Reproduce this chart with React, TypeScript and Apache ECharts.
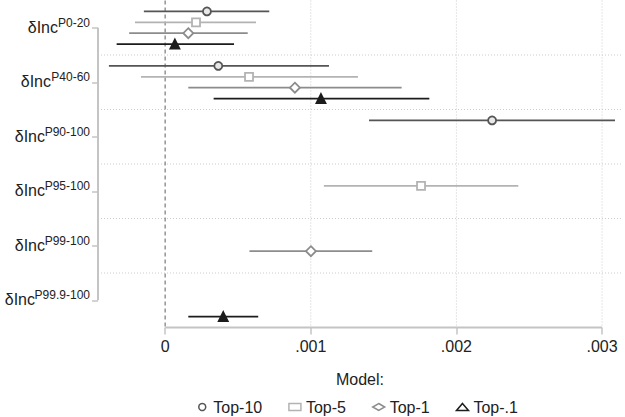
import React, { useEffect, useRef } from "react";
import * as echarts from "echarts";

const groups = ["P0-20", "P40-60", "P90-100", "P95-100", "P99-100", "P99.9-100"];
const labelBase = "δInc";
const models = ["Top-10", "Top-5", "Top-1", "Top-.1"];
const xTicks = [0, 0.001, 0.002, 0.003];

// estimates and 95% intervals per group (null = not estimated)
const estTop10 = [0.000287, 0.000365, 0.002245, null, null, null];
const loTop10 = [-0.000146, -0.000386, 0.0014, null, null, null];
const hiTop10 = [0.000715, 0.001125, 0.003089, null, null, null];

const estTop5 = [0.000212, 0.000576, null, 0.001757, null, null];
const loTop5 = [-0.000207, -0.000166, null, 0.00109, null, null];
const hiTop5 = [0.000624, 0.001324, null, 0.002425, null, null];

const estTop1 = [0.000159, 0.000891, null, null, 0.001001, null];
const loTop1 = [-0.000247, 0.000159, null, null, 0.000579, null];
const hiTop1 = [0.000567, 0.001624, null, null, 0.001422, null];

const estTop01 = [0.000067, 0.00107, null, null, null, 0.000399];
const loTop01 = [-0.000333, 0.000333, null, null, null, 0.000159];
const hiTop01 = [0.000473, 0.001814, null, null, null, 0.000639];

const estimates = [estTop10, estTop5, estTop1, estTop01];
const lows = [loTop10, loTop5, loTop1, loTop01];
const highs = [hiTop10, hiTop5, hiTop1, hiTop01];

const X_MIN = -0.000461;
const X_MAX = 0.003137;
const rowOffsets = [0.2, 0.4, 0.6, 0.8];
const colors = ["#555555", "#b3b3b3", "#8c8c8c", "#1c1c1c"];
const symbols = ["circle", "rect", "diamond", "triangle"];
const symbolSizes = [8, 8, 10, 9];
const fills = ["#e8e8e8", "#ffffff", "#ffffff", "#1c1c1c"];
const FONT = "Liberation Sans";
const MAIN_SIZE = 16;
const SUP_SIZE = 12;

function measure(text: string, size: number): number {
  const cv = document.createElement("canvas");
  const ctx = cv.getContext("2d");
  if (!ctx) return text.length * size * 0.55;
  ctx.font = `${size}px "${FONT}"`;
  return ctx.measureText(text).width;
}

export default function App() {
  const ref = useRef<HTMLDivElement>(null);
  useEffect(() => {
    const chart = echarts.init(ref.current!, null, { renderer: "svg" });
    const nG = groups.length;
    const yLabelVals = groups.map((_, i) => i + 0.5);
    const supWidths = groups.map((g) => measure(g, SUP_SIZE));

    const series: any[] = [];
    series.push({
      type: "custom",
      name: "frame",
      silent: true,
      z: 1,
      data: [[0, 0]],
      renderItem: (_p: any, api: any) => {
        const children: any[] = [];
        const dot = { stroke: "#cccccc", lineWidth: 1, lineDash: [1, 2] };
        const ln = (a: number[], b: number[], style: any) => {
          children.push({ type: "line", shape: { x1: a[0], y1: a[1], x2: b[0], y2: b[1] }, style });
        };
        for (let b = 1; b < nG; b++) ln(api.coord([X_MIN, b]), api.coord([X_MAX, b]), dot);
        for (let k = 1; k < xTicks.length; k++) ln(api.coord([xTicks[k], 0]), api.coord([xTicks[k], nG]), dot);
        ln(api.coord([0, 0]), api.coord([0, nG]), { stroke: "#7a7a7a", lineWidth: 1.2, lineDash: [4, 3] });
        ln(api.coord([xTicks[0], nG]), api.coord([xTicks[xTicks.length - 1], nG]), { stroke: "#c4c4c4", lineWidth: 2 });
        ln(api.coord([X_MIN, yLabelVals[0]]), api.coord([X_MIN, yLabelVals[nG - 1]]), { stroke: "#c4c4c4", lineWidth: 2 });
        // y-axis category labels: δInc with superscript group name
        yLabelVals.forEach((v, i) => {
          const p = api.coord([X_MIN, v]);
          const right = Math.round(p[0] - 8);
          const cy = Math.round(p[1]);
          children.push({
            type: "text",
            style: {
              x: right,
              y: cy - 5,
              text: groups[i],
              fontSize: SUP_SIZE,
              fontFamily: FONT,
              fontWeight: "normal",
              fill: "#222222",
              align: "right",
              verticalAlign: "middle",
            },
          });
          children.push({
            type: "text",
            style: {
              x: Math.round(right - supWidths[i]),
              y: cy - 1,
              text: labelBase,
              fontSize: MAIN_SIZE,
              fontFamily: FONT,
              fontWeight: "normal",
              fill: "#222222",
              align: "right",
              verticalAlign: "middle",
            },
          });
        });
        return { type: "group", children };
      },
    });

    models.forEach((m, mi) => {
      const bars: any[] = [];
      const pts: any[] = [];
      estimates[mi].forEach((e, g) => {
        if (e === null) return;
        const y = g + rowOffsets[mi];
        bars.push([lows[mi][g], highs[mi][g], y]);
        pts.push([e, y]);
      });
      series.push({
        type: "custom",
        name: m + " CI",
        silent: true,
        z: 2,
        data: bars,
        encode: { x: [0, 1], y: 2 },
        renderItem: (_p: any, api: any) => {
          const a = api.coord([api.value(0), api.value(2)]);
          const b = api.coord([api.value(1), api.value(2)]);
          return {
            type: "line",
            shape: { x1: a[0], y1: a[1], x2: b[0], y2: b[1] },
            style: { stroke: colors[mi], lineWidth: 1.8 },
          };
        },
      });
      series.push({
        type: "scatter",
        name: m,
        z: 3,
        data: pts,
        symbol: symbols[mi],
        symbolSize: symbolSizes[mi],
        itemStyle: { color: fills[mi], borderColor: colors[mi], borderWidth: 1.8, opacity: 1 },
      });
    });

    chart.setOption({
      animation: false,
      backgroundColor: "#ffffff",
      textStyle: { fontFamily: FONT },
      grid: { left: 98, right: 3, top: 0.5, bottom: 89.5, containLabel: false },
      xAxis: {
        type: "value",
        min: X_MIN,
        max: X_MAX,
        axisLine: { show: false, onZero: false },
        splitLine: { show: false },
        axisTick: { show: true, customValues: xTicks, length: 7, lineStyle: { color: "#c4c4c4", width: 1.5 } },
        axisLabel: {
          customValues: xTicks,
          margin: 11,
          fontSize: 16,
          fontFamily: FONT,
          color: "#222222",
          formatter: (v: number) => (v === 0 ? "0" : v.toFixed(3).replace(/^0/, "")),
        },
      },
      yAxis: {
        type: "value",
        min: 0,
        max: nG,
        inverse: true,
        axisLine: { show: false, onZero: false },
        splitLine: { show: false },
        axisTick: { show: true, customValues: yLabelVals, length: 6, lineStyle: { color: "#c4c4c4", width: 1.5 } },
        axisLabel: { show: false },
      },
      legend: {
        left: 193,
        top: 394,
        itemWidth: 12,
        itemHeight: 7,
        itemGap: 26,
        textStyle: { fontSize: 16, fontFamily: FONT, color: "#222222" },
        data: models.map((m, mi) => ({
          name: m,
          icon: symbols[mi],
          itemStyle: { color: "#ffffff", borderColor: colors[mi], borderWidth: 1.5 },
        })),
      },
      graphic: [
        {
          type: "text",
          x: 360,
          y: 379,
          style: {
            text: "Model:",
            fontSize: 16,
            fontFamily: FONT,
            fill: "#222222",
            align: "center",
            verticalAlign: "middle",
          },
        },
      ],
      series,
    });
    return () => chart.dispose();
  }, []);
  return (
    <div
      ref={ref}
      style={{ position: "fixed", left: 0, top: 0, width: 625, height: 417, background: "#fff" }}
    />
  );
}
